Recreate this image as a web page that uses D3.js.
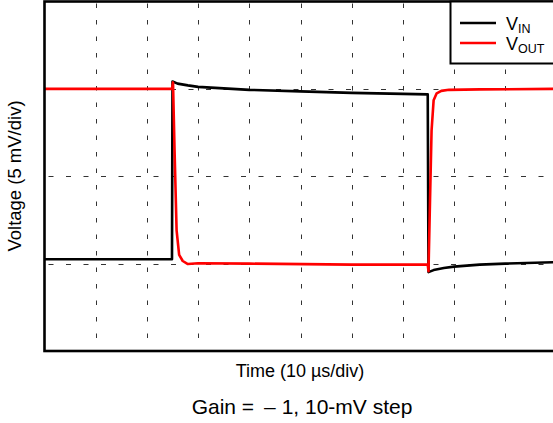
<!DOCTYPE html>
<html><head><meta charset="utf-8">
<script src="https://cdn.jsdelivr.net/npm/d3@7"></script>
<style>html,body{margin:0;padding:0;background:#fff;overflow:hidden}</style>
</head><body>
<svg id="c" width="553" height="423"></svg>
<script>
// Data (time in µs, voltage in mV; 10 µs/div, 5 mV/div)
const vinT  = [0, 24.9, 25.0, 26, 28, 30, 35, 40, 50, 60, 70, 74.85, 75.0, 76, 78, 80, 85, 90, 100];
const vinV  = [-9.5, -9.5, 10.85, 10.6, 10.4, 10.23, 10.06, 9.89, 9.71, 9.54, 9.43, 9.37, -10.97, -10.74, -10.51, -10.34, -10.11, -10.0, -9.83];
const voutT = [0, 24.9, 25.1, 25.4, 25.8, 26.3, 27, 28, 30, 40, 60, 74.85, 75.0, 75.3, 75.6, 76.0, 76.6, 77.5, 79, 85, 100];
const voutV = [10.0, 10.0, 10.74, 3.0, -6.2, -9.0, -9.7, -10.05, -9.95, -10.0, -10.11, -10.11, -10.86, -2.7, 5.26, 8.69, 9.49, 9.77, 9.89, 9.94, 10.0];
const xTicks = [10, 20, 30, 40, 50, 60, 70, 80, 90];
const yGrid = [-10, 0, 10];
const seriesNames = ["IN", "OUT"];
const seriesColors = ["#000000", "#ff0000"];
const xLabel = "Time (10 \u00b5s/div)";
const yLabel = "Voltage (5 mV/div)";
const caption = "Gain = \u2009\u2013 1, 10-mV step";

const svg = d3.select("#c");
const L = 44.5, R = 556.5, T = 1.5, B = 351;
const x = d3.scaleLinear().domain([0, 100]).range([L, R]);
const y = d3.scaleLinear().domain([-20, 20]).range([B, T]);
const FF = "Liberation Sans, Arial, sans-serif";

// grid
const g = svg.append("g");
g.selectAll(".vg").data(xTicks).enter().append("line")
  .attr("x1", d => Math.round(x(d)) + 0.5).attr("x2", d => Math.round(x(d)) + 0.5)
  .attr("y1", T + 2).attr("y2", B)
  .attr("stroke", "#333").attr("stroke-width", 1).attr("stroke-dasharray", "4.5,12");
g.selectAll(".hg").data(yGrid).enter().append("line")
  .attr("y1", d => Math.round(y(d)) + 0.5).attr("y2", d => Math.round(y(d)) + 0.5)
  .attr("x1", L + 4).attr("x2", R)
  .attr("stroke", "#333").attr("stroke-width", 1).attr("stroke-dasharray", "5,12.5");

// traces
const line = d3.line().x(d => x(d[0])).y(d => y(d[1]));
svg.append("path").datum(vinT.map((t, i) => [t, vinV[i]]))
  .attr("d", line).attr("fill", "none").attr("stroke", seriesColors[0]).attr("stroke-width", 2.6).attr("stroke-linejoin", "round");
svg.append("path").datum(voutT.map((t, i) => [t, voutV[i]]))
  .attr("d", line).attr("fill", "none").attr("stroke", seriesColors[1]).attr("stroke-width", 2.6).attr("stroke-linejoin", "round");

// frame
svg.append("rect").attr("x", L).attr("y", T).attr("width", R - L).attr("height", B - T)
  .attr("fill", "none").attr("stroke", "#000").attr("stroke-width", 2.6);

// legend
const lg = svg.append("g");
lg.append("rect").attr("x", 450.5).attr("y", T).attr("width", 110).attr("height", 62)
  .attr("fill", "#fff").attr("stroke", "#000").attr("stroke-width", 2);
seriesNames.forEach((n, i) => {
  const yy = 23 + i * 20;
  lg.append("line").attr("x1", 460).attr("x2", 496).attr("y1", yy).attr("y2", yy)
    .attr("stroke", seriesColors[i]).attr("stroke-width", 2.6);
  const t = lg.append("text").attr("x", 506).attr("y", yy + 7)
    .attr("font-family", FF).attr("font-size", 18).attr("fill", "#000");
  t.append("tspan").text("V");
  t.append("tspan").attr("font-size", 12.5).attr("dy", 3).text(n);
});

// axis labels
svg.append("text").attr("x", 300).attr("y", 377).attr("text-anchor", "middle")
  .attr("font-family", FF).attr("font-size", 18).text(xLabel);
svg.append("text").attr("transform", "translate(21,176) rotate(-90)").attr("text-anchor", "middle")
  .attr("font-family", FF).attr("font-size", 18.5).text(yLabel);
svg.append("text").attr("x", 302).attr("y", 414).attr("text-anchor", "middle")
  .attr("font-family", FF).attr("font-size", 21).text(caption);
</script>
</body></html>
